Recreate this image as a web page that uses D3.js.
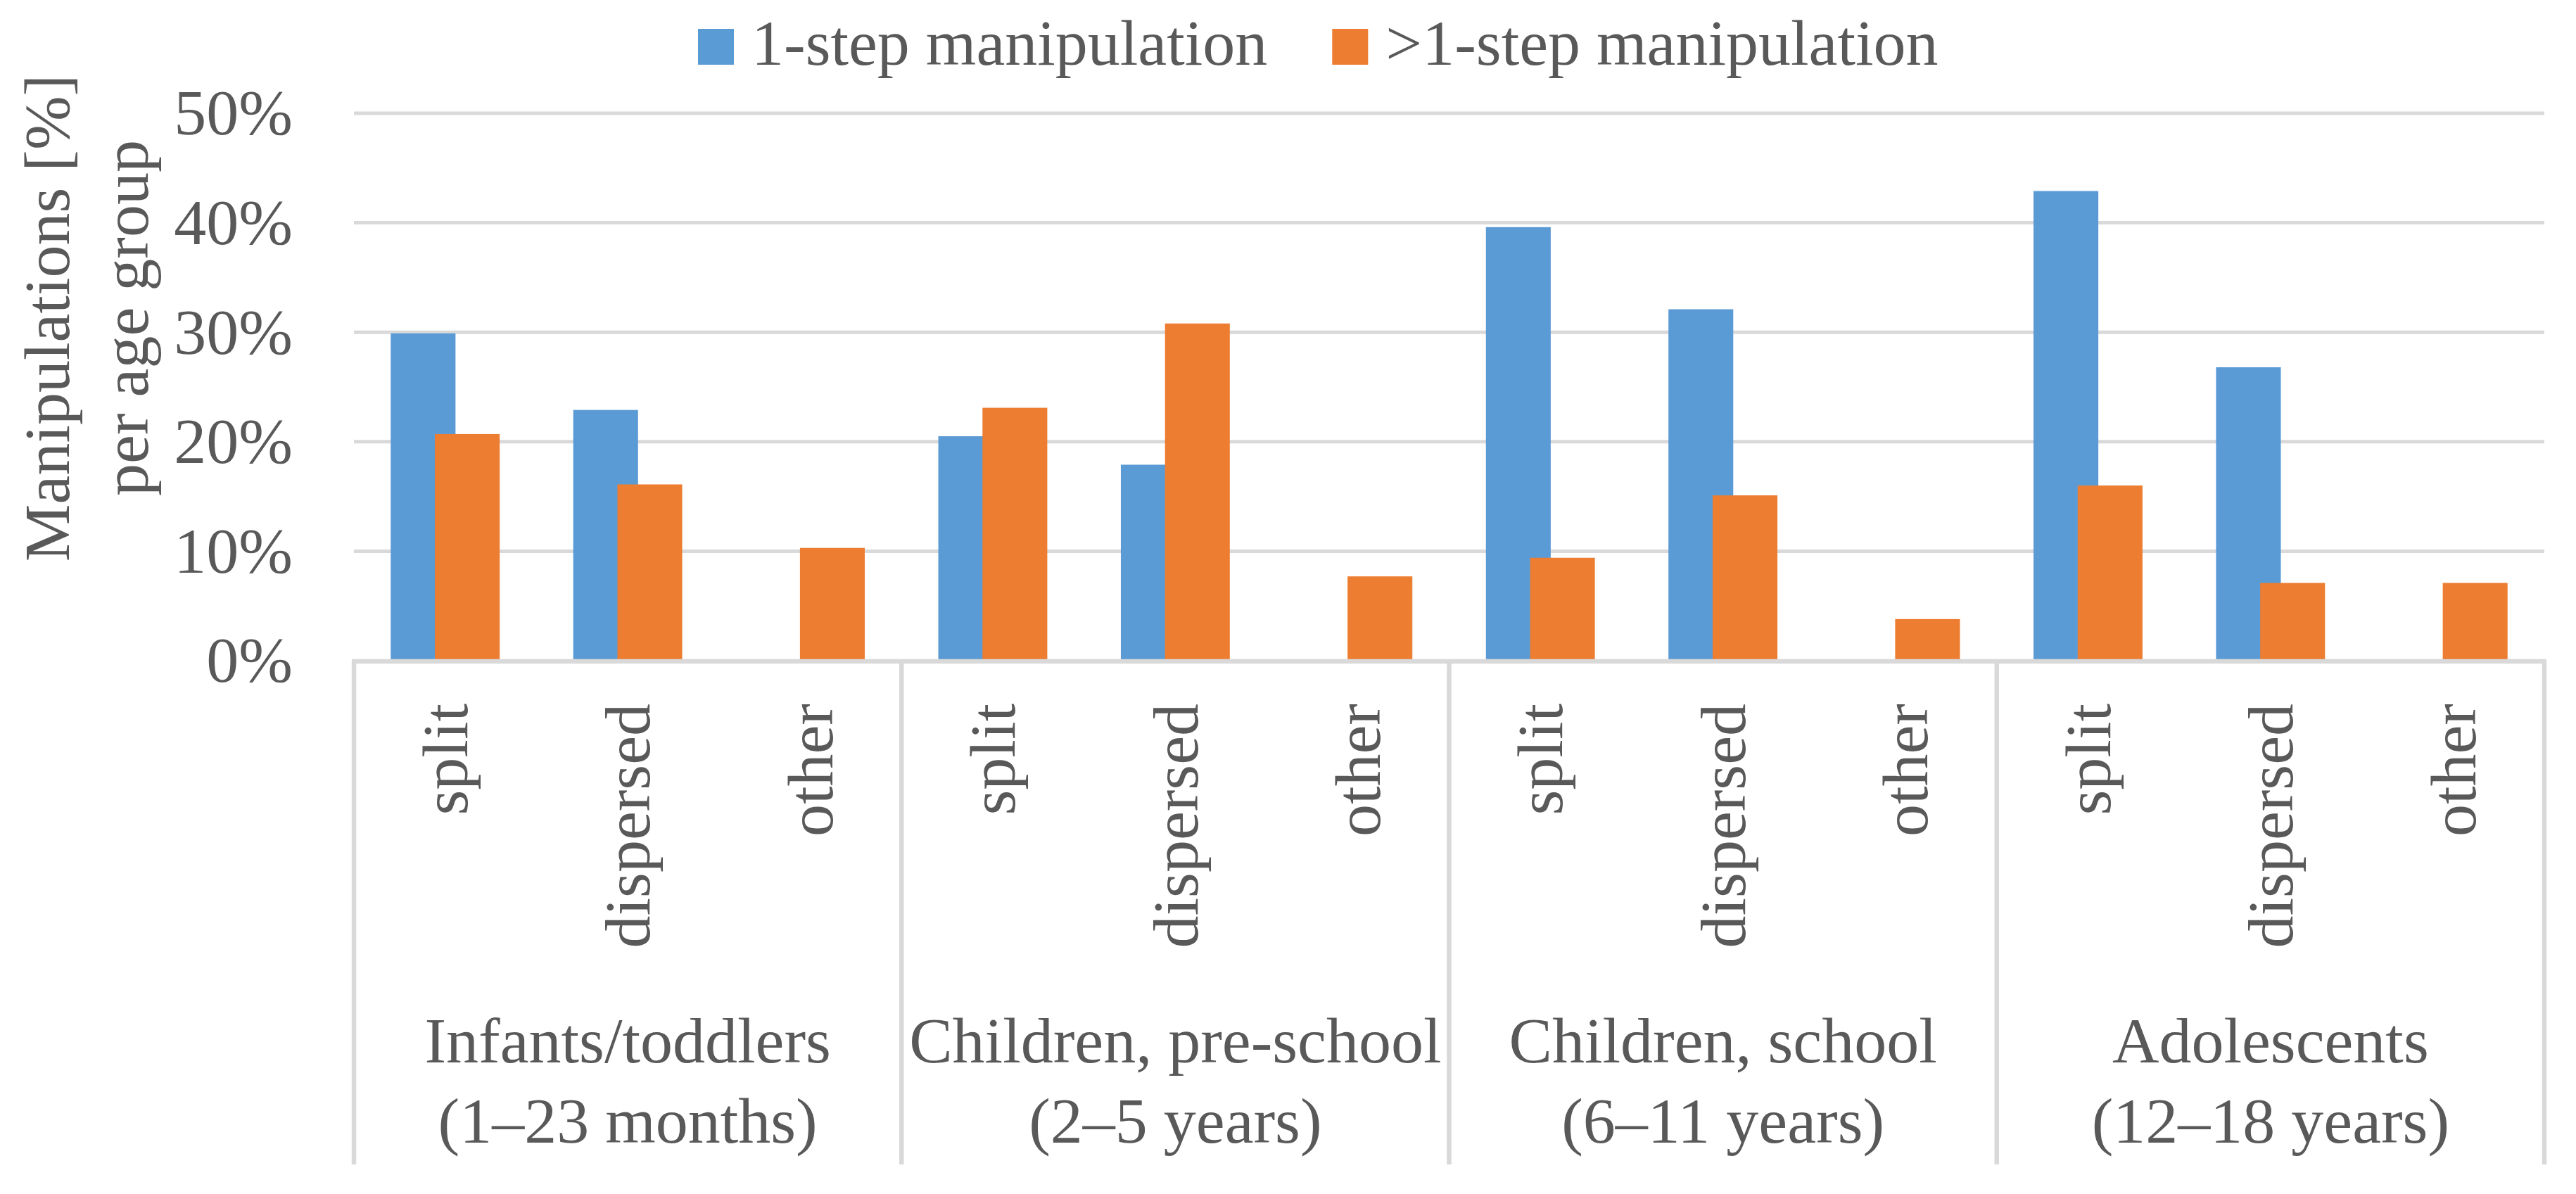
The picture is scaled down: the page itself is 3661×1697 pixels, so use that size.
<!DOCTYPE html>
<html>
<head>
<meta charset="utf-8">
<script src="https://cdn.jsdelivr.net/npm/d3@7"></script>
<style>
  html, body { margin: 0; padding: 0; background: #fff; }
  svg text { font-family: "Liberation Serif", "Times New Roman", serif; fill: #595959; }
</style>
</head>
<body>
<div id="chart"></div>
<script>
// age groups (two-line labels) and manipulation types
const groups = [
	["Infants/toddlers", "(1–23 months)"],
	["Children, pre-school", "(2–5 years)"],
	["Children, school", "(6–11 years)"],
	["Adolescents", "(12–18 years)"],
];
const types = ["split", "dispersed", "other"];
const seriesNames = ["1-step manipulation", ">1-step manipulation"];

// values in %, per group in order split, dispersed, other (null = no bar)
const oneStep = [29.9, 22.9, null, 20.5, 17.9, null, 39.6, 32.1, null, 42.9, 26.8, null];
const multiStep = [20.7, 16.1, 10.3, 23.1, 30.8, 7.7, 9.4, 15.1, 3.8, 16.0, 7.1, 7.1];
const yTicks = [0, 10, 20, 30, 40, 50];

const colors = ["#5B9BD5", "#ED7D31"];

const width = 3661;
const height = 1697;
const margin = { left: 503, right: 3616, top: 161, bottom: 939 };
const fontSize = 92;

const svg = d3
	.select("#chart")
	.append("svg")
	.attr("width", width)
	.attr("height", height)
	.attr("viewBox", `0 0 ${width} ${height}`);

// one band per (group, type) pair
const cats = [];
groups.forEach((g, gi) => types.forEach((t) => cats.push({ group: gi, type: t })));

const x = d3
	.scaleBand()
	.domain(d3.range(cats.length))
	.range([margin.left, margin.right])
	.padding(0);

const y = d3.scaleLinear().domain([0, 50]).range([margin.bottom, margin.top]);

// bars overlap a bit, like the original
const barW = x.bandwidth() * 0.355;
const xs = d3
	.scalePoint()
	.domain(seriesNames)
	.range([-x.bandwidth() * 0.121, x.bandwidth() * 0.121]);

// gridlines
svg
	.append("g")
	.selectAll("line")
	.data(yTicks.filter((d) => d > 0))
	.join("line")
	.attr("x1", margin.left)
	.attr("x2", margin.right)
	.attr("y1", (d) => y(d))
	.attr("y2", (d) => y(d))
	.attr("stroke", "#D9D9D9")
	.attr("stroke-width", 5);

// y tick labels
svg
	.append("g")
	.selectAll("text")
	.data(yTicks)
	.join("text")
	.attr("x", 416)
	.attr("y", (d) => y(d))
	.attr("dy", "0.33em")
	.attr("text-anchor", "end")
	.style("font-size", fontSize + "px")
	.text((d) => d + "%");

// bars
const seriesData = [oneStep, multiStep];
seriesData.forEach((vals, si) => {
	svg
		.append("g")
		.selectAll("rect")
		.data(vals.map((v, i) => ({ i, v })).filter((d) => d.v != null))
		.join("rect")
		.attr("x", (d) => x(d.i) + x.bandwidth() / 2 + xs(seriesNames[si]) - barW / 2)
		.attr("width", barW)
		.attr("y", (d) => y(d.v))
		.attr("height", (d) => y(0) - y(d.v))
		.attr("fill", colors[si]);
});

// category axis: baseline and group dividers
const axisG = svg.append("g");
const groupEdges = d3.range(groups.length + 1).map((k) => (k < groups.length ? x(k * 3) : margin.right));
axisG
	.append("line")
	.attr("x1", margin.left - 3)
	.attr("x2", margin.right + 3)
	.attr("y1", y(0) + 1)
	.attr("y2", y(0) + 1)
	.attr("stroke", "#D9D9D9")
	.attr("stroke-width", 6.5);
axisG
	.selectAll("line.div")
	.data(groupEdges)
	.join("line")
	.attr("class", "div")
	.attr("x1", (d) => d)
	.attr("x2", (d) => d)
	.attr("y1", y(0) + 1)
	.attr("y2", 1655)
	.attr("stroke", "#D9D9D9")
	.attr("stroke-width", 6.5);

// rotated type labels
axisG
	.selectAll("text.type")
	.data(cats)
	.join("text")
	.attr("class", "type")
	.attr("transform", (d, i) => `translate(${x(i) + x.bandwidth() / 2},1000) rotate(-90)`)
	.attr("dy", "0.34em")
	.attr("text-anchor", "end")
	.style("font-size", fontSize + "px")
	.text((d) => d.type);

// group labels
const groupText = axisG
	.selectAll("text.group")
	.data(groups)
	.join("text")
	.attr("class", "group")
	.attr("text-anchor", "middle")
	.style("font-size", fontSize + "px");
groupText
	.append("tspan")
	.attr("x", (d, gi) => (groupEdges[gi] + groupEdges[gi + 1]) / 2)
	.attr("y", 1510)
	.text((d) => d[0]);
groupText
	.append("tspan")
	.attr("x", (d, gi) => (groupEdges[gi] + groupEdges[gi + 1]) / 2)
	.attr("y", 1624)
	.text((d) => d[1]);

// y axis title
const yTitle = svg
	.append("text")
	.attr("transform", "translate(0,452) rotate(-90)")
	.attr("text-anchor", "middle")
	.style("font-size", fontSize + "px");
yTitle.append("tspan").attr("x", 0).attr("y", 98).text("Manipulations [%]");
yTitle.append("tspan").attr("x", 0).attr("y", 210).text("per age group");

// legend
const legend = svg.append("g");
let lx = 992;
seriesNames.forEach((name, si) => {
	legend
		.append("rect")
		.attr("x", lx)
		.attr("y", 41)
		.attr("width", 51)
		.attr("height", 51)
		.attr("fill", colors[si]);
	const t = legend
		.append("text")
		.attr("x", lx + 76)
		.attr("y", 92)
		.style("font-size", fontSize + "px")
		.text(name);
	lx += 76 + t.node().getComputedTextLength() + 92;
});
</script>
</body>
</html>
